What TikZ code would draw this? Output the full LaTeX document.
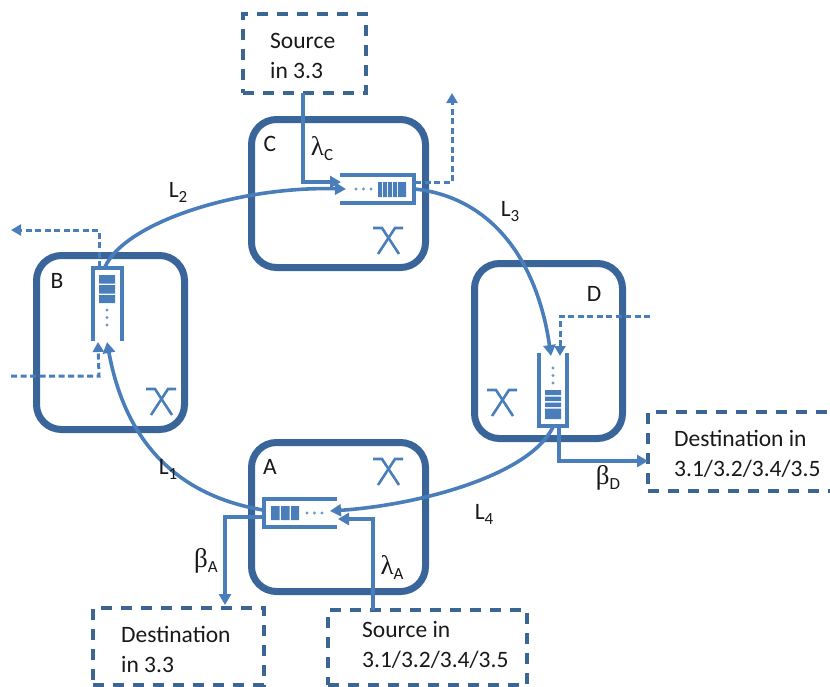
\documentclass[tikz,border=0pt]{standalone}
\usepackage{fontspec}
\setmainfont{Carlito}
\newfontfamily\greekf{Liberation Serif}
\usetikzlibrary{arrows.meta}
\definecolor{routerc}{HTML}{3A659B}
\definecolor{linkc}{HTML}{4A7EBB}
\definecolor{dashc}{HTML}{3B6592}
\newcommand{\gsym}[2]{{\greekf\fontsize{27}{27}\selectfont #1}\raisebox{-5pt}{\fontsize{17}{17}\selectfont #2}}
\newcommand{\lsym}[2]{#1\raisebox{-5pt}{\fontsize{17}{17}\selectfont #2}}
\tikzset{
  routerbox/.style={rectangle,draw=routerc,line width=7pt,rounded corners=25pt,inner sep=0pt},
  ext/.style={rectangle,draw=dashc,line width=3.5pt,dash pattern=on 11pt off 9pt,inner sep=0pt},
  txt/.style={font=\fontsize{23.5}{30}\selectfont,inner sep=0pt,text=black!90},
  boxtxt/.style={txt,align=left,anchor=base west},
  link/.style={draw=linkc,line width=3.6pt,-{Triangle[length=11pt,width=12pt]}},
  linkdash/.style={draw=linkc,line width=3pt,dash pattern=on 6pt off 3.5pt,-{Triangle[length=10pt,width=11pt]}},
  queuewall/.style={draw=linkc,line width=3.6pt},
  cell/.style={fill=linkc,draw=none},
  dot/.style={fill=linkc!80,draw=none},
  xbar/.style={draw=linkc,line width=2.6pt},
  switchx/.pic={\draw[xbar] (-15,0) -- (-6,0) -- (11,26); \draw[xbar] (15,0) -- (7,0) -- (-10,26);}
}
\begin{document}
\begin{tikzpicture}[x=1pt,y=-1pt]
\clip (0,0) rectangle (830,686);
% routers
\node[routerbox,minimum width=174pt,minimum height=148pt] (C) at (338.5,193.5) {};
\node[routerbox,minimum width=148pt,minimum height=174pt] (B) at (110.5,342.5) {};
\node[routerbox,minimum width=148pt,minimum height=175pt] (D) at (548.5,351) {};
\node[routerbox,minimum width=174pt,minimum height=149pt] (A) at (338.5,517) {};
% external boxes
\node[ext,minimum width=123pt,minimum height=79pt] (srcC) at (304.5,53.5) {};
\node[ext,minimum width=171pt,minimum height=77pt] (dstA) at (178.5,646.5) {};
\node[ext,minimum width=199pt,minimum height=75pt] (srcA) at (427.5,647.5) {};
\node[ext,minimum width=190pt,minimum height=79pt] (dstD) at (743,451.5) {};
% box texts
\node[boxtxt] (t1) at (270,78) {Source\\in 3.3};
\node[boxtxt] (t2) at (121,672) {Destination\\in 3.3};
\node[boxtxt] (t3) at (362,667) {Source in\\3.1/3.2/3.4/3.5};
\node[boxtxt] (t4) at (674,476) {Destination in\\3.1/3.2/3.4/3.5};
% router names
\node[txt] (nC) at (270,144) {C};
\node[txt] (nB) at (57,281) {B};
\node[txt] (nD) at (594,294) {D};
\node[txt] (nA) at (270,467) {A};
% switches
\pic at (388,228) {switchx};
\pic at (388,459) {switchx};
\pic at (161,389) {switchx};
\pic at (502,390) {switchx};
% queue C
\draw[queuewall] (340,175) -- (414,175) -- (414,203) -- (340,203);
\fill[cell] (378,182) rectangle (382,197) (383,182) rectangle (387,197) (388,182) rectangle (392,197) (393,182) rectangle (397,197) (398,182) rectangle (406,197);
\fill[dot] (356,189) circle (1.6) (363.5,189) circle (1.6) (371,189) circle (1.6);
% queue B
\draw[queuewall] (93,341) -- (93,268) -- (122,268) -- (122,341);
\fill[cell] (99,275) rectangle (115,283.5) (99,285) rectangle (115,293.5) (99,295) rectangle (115,303);
\fill[dot] (107,310) circle (1.6) (107,317.5) circle (1.6) (107,325) circle (1.6);
% queue D
\draw[queuewall] (539,353) -- (539,426) -- (567,426) -- (567,353);
\fill[cell] (545,390) rectangle (561,395) (545,396.5) rectangle (561,401) (545,402.5) rectangle (561,407) (545,408.5) rectangle (561,419);
\fill[dot] (553,368) circle (1.6) (553,375.5) circle (1.6) (553,383) circle (1.6);
% queue A
\draw[queuewall] (337,499) -- (264,499) -- (264,527) -- (337,527);
\fill[cell] (271,506) rectangle (279.5,520) (281,506) rectangle (289.5,520) (291,506) rectangle (299,520);
\fill[dot] (307,513) circle (1.6) (314.5,513) circle (1.6) (322,513) circle (1.6);
% ports
\coordinate (qCinS) at (341,182);
\coordinate (qCinL) at (346,189);
\coordinate (qCoutL) at (415,189);
\coordinate (qCoutD) at (415,182);
\coordinate (qBinL) at (107,342);
\coordinate (qBinD) at (98,342);
\coordinate (qBoutL) at (105,267);
\coordinate (qBoutD) at (99,267);
\coordinate (qDinL) at (551,356);
\coordinate (qDinD) at (560,356);
\coordinate (qDoutL) at (553,427);
\coordinate (qDoutS) at (559,427);
\coordinate (qAinL) at (330,511);
\coordinate (qAinS) at (338,519);
\coordinate (qAoutL) at (263,510);
\coordinate (qAoutS) at (263,517);
\coordinate (outC) at (452,93);
\coordinate (outB) at (11,230);
\coordinate (inB) at (11,376);
\coordinate (inD) at (650,316);
% links
\draw[link] (qBoutL) .. controls (125,222) and (240,186) .. (qCinL);
\draw[link] (qCoutL) .. controls (495,198) and (538,265) .. (qDinL);
\draw[link] (qDoutL) .. controls (530,475) and (420,505) .. (qAinL);
\draw[link] (qAoutL) .. controls (175,495) and (125,440) .. (qBinL);
% sources, destinations
\draw[link] (303,93) -- (303,182) -- (qCinS);
\draw[link] (373,610) -- (373,519) -- (qAinS);
\draw[link] (qDoutS) -- (559,461) -- (648,461);
\draw[link] (qAoutS) -- (225,517) -- (225,605);
% dashed
\draw[linkdash] (qCoutD) -- (452,182) -- (outC);
\draw[linkdash] (qBoutD) -- (99,230) -- (outB);
\draw[linkdash] (inB) -- (99,376) -- (qBinD);
\draw[linkdash] (inD) -- (560,316) -- (qDinD);
% labels
\node[txt] (l1) at (168,469) {\lsym{L}{1}};
\node[txt] (l2) at (178,192) {\lsym{L}{2}};
\node[txt] (l3) at (510,212) {\lsym{L}{3}};
\node[txt] (l4) at (484,514) {\lsym{L}{4}};
\node[txt] (lC) at (322,149) {\gsym{λ}{C}};
\node[txt] (lA) at (392,567) {\gsym{λ}{A}};
\node[txt] (bD) at (608,478) {\gsym{β}{D}};
\node[txt] (bA) at (206,561) {\gsym{β}{A}};
\end{tikzpicture}
\end{document}
